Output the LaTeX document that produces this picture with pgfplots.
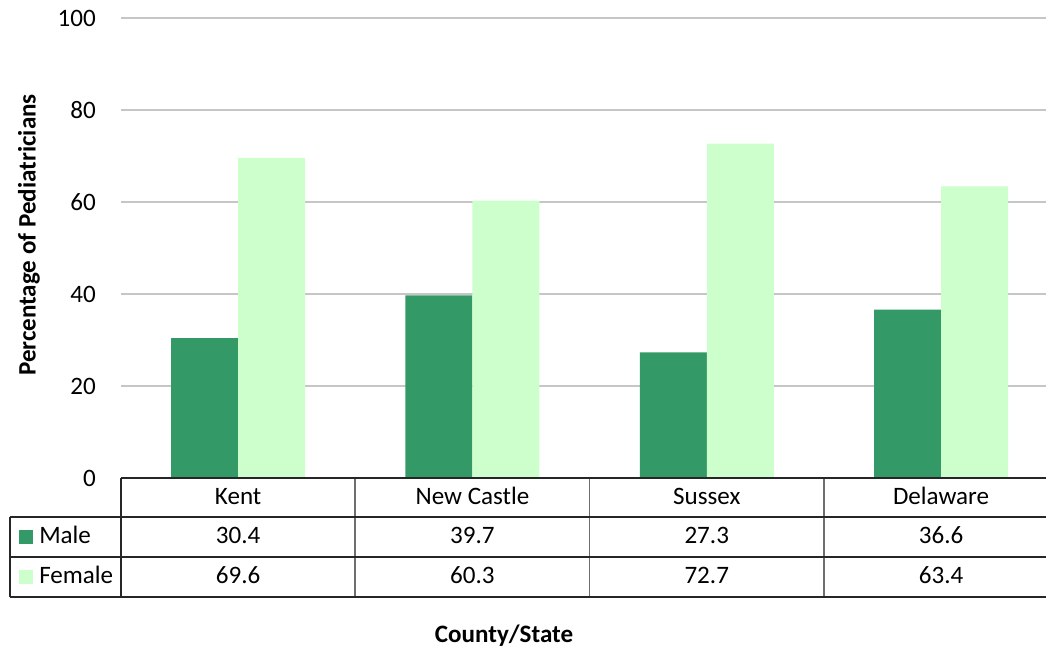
\documentclass[border=0pt]{standalone}
\usepackage{fontspec}
\setmainfont{Carlito}
\usepackage{pgfplots}
\usepackage{pgfplotstable}
\pgfplotsset{compat=1.18}

\definecolor{male}{HTML}{339966}
\definecolor{female}{HTML}{CCFFCC}
\definecolor{gridgray}{HTML}{C6C6C6}
\definecolor{rulegray}{HTML}{6E6E6E}

\pgfplotstableread[col sep=comma]{
idx,name,male,female
0,Kent,30.4,69.6
1,New Castle,39.7,60.3
2,Sussex,27.3,72.7
3,Delaware,36.6,63.4
}\pedtable

\begin{document}
\begin{tikzpicture}[x=0.75pt,y=0.75pt,font=\fontsize{18.8}{22}\selectfont]
\clip (0,0) rectangle (1046,650);
\coordinate (plotorigin) at (121,172);
\begin{axis}[
  at={(plotorigin)}, anchor=south west,
  scale only axis, width=702.9pt, height=345pt,
  xmin=-0.5, xmax=3.5, ymin=0, ymax=100,
  ytick={0,20,...,100}, xtick=\empty,
  axis line style={draw=none},
  major tick length=0pt,
  ymajorgrids, grid style={gridgray, line width=1.5pt},
  yticklabel style={inner sep=0pt, anchor=east, xshift=-18.75pt},
  /pgf/number format/assume math mode=true,
  ybar=0pt, bar width=50.25pt,
  clip=false,
]
\addplot[fill=male, draw=none] table[x=idx, y=male] {\pedtable};
\addplot[fill=female, draw=none] table[x=idx, y=female] {\pedtable};
\end{axis}

% data table under the plot
\draw[rulegray, line width=1.3pt] (355.3,53) -- (355.3,172)
                                   (589.6,53) -- (589.6,172)
                                   (823.9,53) -- (823.9,172);
\draw[black!85, line width=1.3pt] (121,172) -- (1046,172);
\draw[black!85, line width=1.3pt] (10,133) -- (1046,133)
                                   (10,93) -- (1046,93)
                                   (10,53) -- (1046,53);
\draw[black!85, line width=1.3pt] (10,53) -- (10,133)
                                   (121,53) -- (121,172);

\foreach \i in {0,...,3} {
  \pgfplotstablegetelem{\i}{name}\of\pedtable
  \node[anchor=base, inner sep=0pt] at ({238.15+234.3*\i},145) {\pgfplotsretval};
  \pgfplotstablegetelem{\i}{male}\of\pedtable
  \node[anchor=base, inner sep=0pt] at ({238.15+234.3*\i},106) {\pgfplotsretval};
  \pgfplotstablegetelem{\i}{female}\of\pedtable
  \node[anchor=base, inner sep=0pt] at ({238.15+234.3*\i},66) {\pgfplotsretval};
}

% legend keys
\fill[male] (19,106) rectangle (33,120);
\fill[female] (19,66) rectangle (33,80);
\node[anchor=base west, inner sep=0pt] at (39,106) {Male};
\node[anchor=base west, inner sep=0pt] at (39,66) {Female};

% axis titles
\node[rotate=90, inner sep=0pt, font=\fontsize{18.8}{22}\selectfont\bfseries] at (29,415) {Percentage of Pediatricians};
\node[anchor=base, inner sep=0pt, font=\fontsize{18.8}{22}\selectfont\bfseries] at (504,8) {County/State};
\end{tikzpicture}
\end{document}
